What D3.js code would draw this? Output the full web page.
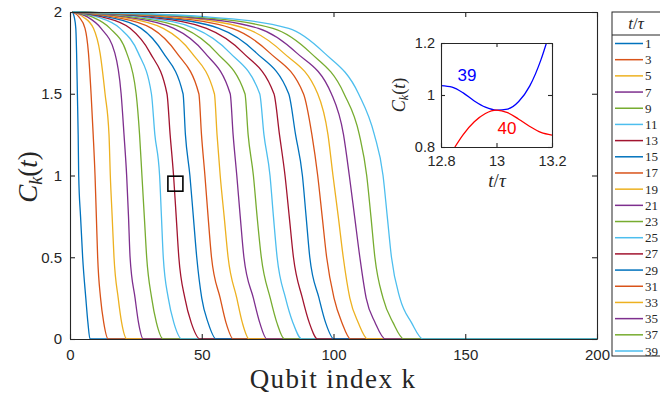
<!DOCTYPE html>
<html>
<head>
<meta charset="utf-8">
<script src="https://cdn.jsdelivr.net/npm/d3@7"></script>
<style>
  html, body { margin: 0; padding: 0; background: #fff; }
  svg { display: block; }
  .tick text { font-family: "Liberation Sans", Arial, sans-serif; fill: #262626; }
  .serif { font-family: "Liberation Serif", "DejaVu Serif", serif; fill: #262626; }
</style>
</head>
<body>
<svg id="chart" width="660" height="398"></svg>
<script>
// Evolution times shown in the legend (t / tau)
const times = [1, 3, 5, 7, 9, 11, 13, 15, 17, 19, 21, 23, 25, 27, 29, 31, 33, 35, 37, 39];

// Correlation levels C_k(t) at which each profile is tabulated
const levels = [2, 1.97, 1.9, 1.75, 1.5, 1.25, 1, 0.75, 0.5, 0.25, 0.1, 0];

// Qubit index k at which each profile reaches the corresponding level (one row per time)
const kAtLevel = [
  [1, 1.6, 2.2, 2.5, 2.8, 3.1, 3.3, 4.0, 4.8, 6.0, 6.8, 7.6],
  [1, 3.4, 5.7, 7.0, 8.0, 8.8, 9.5, 10.0, 10.5, 11.6, 12.8, 14.5],
  [1, 5.0, 8.9, 11.4, 13.3, 14.8, 15.3, 16.0, 16.7, 18.3, 19.6, 21.6],
  [1, 6.6, 11.8, 17.0, 19.4, 20.5, 21.5, 22.2, 22.8, 24.7, 26.0, 27.8],
  [1, 8.4, 15.2, 21.5, 25.1, 26.4, 27.3, 28.2, 29.1, 31.0, 32.8, 35.4],
  [1, 10.3, 19.0, 25.9, 30.9, 32.2, 34.0, 34.7, 35.4, 37.3, 39.4, 42.5],
  [1, 12.2, 22.8, 30.4, 36.8, 38.0, 39.3, 40.3, 41.3, 43.6, 46.0, 49.4],
  [1, 14.3, 27.0, 35.4, 42.9, 43.8, 45.5, 46.8, 48.1, 50.0, 52.4, 55.5],
  [1, 16.5, 31.0, 40.5, 48.9, 49.9, 51.2, 52.4, 53.7, 57.0, 59.2, 62.0],
  [1, 18.8, 35.4, 46.2, 54.8, 55.8, 57.0, 58.5, 60.0, 63.3, 65.4, 68.0],
  [1, 21.2, 39.4, 51.2, 60.8, 61.9, 63.3, 64.6, 66.0, 69.6, 72.0, 74.7],
  [1, 23.8, 43.2, 55.7, 66.4, 67.6, 69.6, 71.0, 72.6, 76.0, 78.5, 81.4],
  [1, 26.5, 47.3, 60.7, 72.0, 73.6, 75.9, 77.2, 78.6, 81.8, 84.6, 88.0],
  [1, 29.4, 51.8, 65.7, 77.4, 79.5, 81.6, 83.2, 84.8, 88.2, 90.8, 94.0],
  [1, 32.5, 56.5, 70.7, 83.0, 85.6, 88.2, 89.6, 91.0, 94.5, 97.0, 100.2],
  [1, 35.8, 61.5, 75.8, 88.6, 91.8, 94.0, 95.7, 97.4, 100.2, 103.2, 106.5],
  [1, 39.3, 66.5, 81.0, 94.0, 97.9, 99.8, 101.8, 103.7, 106.2, 109.4, 113.0],
  [1, 43.0, 71.5, 86.0, 99.2, 103.8, 106.0, 108.0, 110.0, 112.4, 115.8, 119.7],
  [1, 47.0, 77.0, 91.3, 104.0, 109.8, 112.6, 114.2, 115.7, 118.8, 122.6, 126.7],
  [1, 52.0, 83.0, 96.5, 109.5, 115.5, 118.8, 120.4, 122.0, 125.2, 129.6, 134.0]
];

// Highlighted site / value (box marker)
const markerK = 40;
const markerC = 0.95;

// Inset: C_39 and C_40 around t = 13 tau
const insetT39 = [12.8, 12.84, 12.88, 12.92, 12.96, 13.0, 13.04, 13.08, 13.12, 13.16, 13.18];
const insetC39 = [1.036, 1.030, 1.008, 0.977, 0.953, 0.942, 0.946, 0.975, 1.035, 1.135, 1.2];
const insetT40 = [12.85, 12.88, 12.92, 12.96, 13.0, 13.04, 13.08, 13.12, 13.16, 13.2];
const insetC40 = [0.80, 0.848, 0.897, 0.929, 0.942, 0.932, 0.907, 0.879, 0.856, 0.846];

const xTicks = [0, 50, 100, 150, 200];
const yTicks = [0, 0.5, 1, 1.5, 2];
const insetXTicks = [12.8, 13, 13.2];
const insetYTicks = [0.8, 1, 1.2];

const palette = ["#0072BD", "#D95319", "#EDB120", "#7E2F8E", "#77AC30", "#4DBEEE", "#A2142F"];
const axisColor = "#262626";
const fmt = d3.format("~g");

const svg = d3.select("#chart");

const x = d3.scaleLinear().domain([0, 200]).range([70, 597]);
const y = d3.scaleLinear().domain([0, 2]).range([339, 12]);

// Profiles
const line = d3.line().x(d => x(d[0])).y(d => y(d[1])).curve(d3.curveMonotoneX);
const plot = svg.append("g");
plot.append("clipPath").attr("id", "clip")
  .append("rect").attr("x", 70).attr("y", 11).attr("width", 527).attr("height", 329);

const profiles = plot.append("g").attr("clip-path", "url(#clip)");
times.forEach((t, i) => {
  const pts = levels.map((c, j) => [kAtLevel[i][j], c]);
  pts.push([200, 0]);
  profiles.append("path")
    .attr("d", line(pts))
    .attr("fill", "none")
    .attr("stroke", palette[i % palette.length])
    .attr("stroke-width", 1.3)
    .attr("stroke-linejoin", "round");
});

// Marker box
const ms = 15;
svg.append("rect")
  .attr("x", x(markerK) - ms / 2).attr("y", y(markerC) - ms / 2)
  .attr("width", ms).attr("height", ms)
  .attr("fill", "none").attr("stroke", "#000").attr("stroke-width", 1.6);

// Axes (ticks pointing inwards, boxed)
function styleAxis(g) {
  g.select(".domain").attr("stroke", axisColor).attr("stroke-width", 1.1);
  g.selectAll(".tick line").attr("stroke", axisColor).attr("stroke-width", 1.1);
}
svg.append("g").attr("transform", "translate(0,339)")
  .call(d3.axisBottom(x).tickValues(xTicks).tickSize(-5).tickSizeOuter(0).tickPadding(10).tickFormat(fmt))
  .call(styleAxis)
  .call(g => g.selectAll("text").attr("font-size", 15));
svg.append("g").attr("transform", "translate(0,12)")
  .call(d3.axisTop(x).tickValues(xTicks).tickSize(-5).tickSizeOuter(0).tickFormat(""))
  .call(styleAxis);
svg.append("g").attr("transform", "translate(70,0)")
  .call(d3.axisLeft(y).tickValues(yTicks).tickSize(-5).tickSizeOuter(0).tickPadding(8).tickFormat(fmt))
  .call(styleAxis)
  .call(g => g.selectAll("text").attr("font-size", 15));
svg.append("g").attr("transform", "translate(597,0)")
  .call(d3.axisRight(y).tickValues(yTicks).tickSize(-5).tickSizeOuter(0).tickFormat(""))
  .call(styleAxis);

// Axis titles
svg.append("text").attr("class", "serif")
  .attr("x", 333).attr("y", 388).attr("text-anchor", "middle")
  .attr("font-size", 27).attr("letter-spacing", 1.4).text("Qubit index k");

const yl = svg.append("text").attr("class", "serif")
  .attr("transform", "translate(37,177) rotate(-90)")
  .attr("text-anchor", "middle").attr("font-size", 27);
yl.append("tspan").attr("font-style", "italic").text("C");
yl.append("tspan").attr("font-style", "italic").attr("font-size", 18).attr("dy", 5).text("k");
yl.append("tspan").attr("dy", -5).text("(");
yl.append("tspan").attr("font-style", "italic").text("t");
yl.append("tspan").text(")");

// Inset
const ix = d3.scaleLinear().domain([12.8, 13.2]).range([441, 552]);
const iy = d3.scaleLinear().domain([0.8, 1.2]).range([147, 43]);
const inset = svg.append("g");
inset.append("rect").attr("x", 441).attr("y", 43).attr("width", 111).attr("height", 104).attr("fill", "#fff");

const iclip = inset.append("clipPath").attr("id", "iclip");
iclip.append("rect").attr("x", 441).attr("y", 43).attr("width", 111).attr("height", 104);
const icurve = d3.line().x(d => ix(d[0])).y(d => iy(d[1])).curve(d3.curveMonotoneX);
const ig = inset.append("g").attr("clip-path", "url(#iclip)");
ig.append("path").attr("d", icurve(insetT39.map((t, i) => [t, insetC39[i]])))
  .attr("fill", "none").attr("stroke", "#0000FF").attr("stroke-width", 1.3);
ig.append("path").attr("d", icurve(insetT40.map((t, i) => [t, insetC40[i]])))
  .attr("fill", "none").attr("stroke", "#FF0000").attr("stroke-width", 1.3);

inset.append("g").attr("transform", "translate(0,147)")
  .call(d3.axisBottom(ix).tickValues(insetXTicks).tickSize(-4).tickSizeOuter(0).tickPadding(9).tickFormat(fmt))
  .call(styleAxis)
  .call(g => g.selectAll("text").attr("font-size", 14.5));
inset.append("g").attr("transform", "translate(0,43)")
  .call(d3.axisTop(ix).tickValues(insetXTicks).tickSize(-4).tickSizeOuter(0).tickFormat(""))
  .call(styleAxis);
inset.append("g").attr("transform", "translate(441,0)")
  .call(d3.axisLeft(iy).tickValues(insetYTicks).tickSize(-4).tickSizeOuter(0).tickPadding(6).tickFormat(fmt))
  .call(styleAxis)
  .call(g => g.selectAll("text").attr("font-size", 14.5));
inset.append("g").attr("transform", "translate(552,0)")
  .call(d3.axisRight(iy).tickValues(insetYTicks).tickSize(-4).tickSizeOuter(0).tickFormat(""))
  .call(styleAxis);

inset.append("text").attr("x", 467).attr("y", 81).attr("text-anchor", "middle")
  .attr("font-family", "Liberation Sans, Arial, sans-serif").attr("font-size", 17)
  .attr("fill", "#0000FF").text("39");
inset.append("text").attr("x", 507).attr("y", 134).attr("text-anchor", "middle")
  .attr("font-family", "Liberation Sans, Arial, sans-serif").attr("font-size", 17)
  .attr("fill", "#FF0000").text("40");

const iyl = inset.append("text").attr("class", "serif")
  .attr("transform", "translate(405,95) rotate(-90)")
  .attr("text-anchor", "middle").attr("font-size", 18);
iyl.append("tspan").attr("font-style", "italic").text("C");
iyl.append("tspan").attr("font-style", "italic").attr("font-size", 12).attr("dy", 3).text("k");
iyl.append("tspan").attr("dy", -3).text("(");
iyl.append("tspan").attr("font-style", "italic").text("t");
iyl.append("tspan").text(")");

const ixl = inset.append("text").attr("class", "serif")
  .attr("x", 497).attr("y", 187).attr("text-anchor", "middle").attr("font-size", 19);
ixl.append("tspan").attr("font-style", "italic").text("t");
ixl.append("tspan").text("/");
ixl.append("tspan").attr("font-style", "italic").text("τ");

// Legend
const legend = svg.append("g");
legend.append("rect").attr("x", 612).attr("y", 12).attr("width", 60).attr("height", 344)
  .attr("fill", "#fff").attr("stroke", axisColor).attr("stroke-width", 1);
legend.append("line").attr("x1", 612).attr("x2", 672).attr("y1", 35).attr("y2", 35)
  .attr("stroke", axisColor).attr("stroke-width", 1);
const lt = legend.append("text").attr("class", "serif")
  .attr("x", 636).attr("y", 29).attr("text-anchor", "middle").attr("font-size", 17);
lt.append("tspan").attr("font-style", "italic").text("t");
lt.append("tspan").text("/");
lt.append("tspan").attr("font-style", "italic").text("τ");

const ly = d3.scalePoint().domain(times).range([43.5, 351]);
times.forEach((t, i) => {
  legend.append("line")
    .attr("x1", 615).attr("x2", 643).attr("y1", ly(t)).attr("y2", ly(t))
    .attr("stroke", palette[i % palette.length]).attr("stroke-width", 1.5);
  legend.append("text").attr("class", "serif")
    .attr("x", 645).attr("y", ly(t) + 4.5).attr("font-size", 13).text(t);
});
</script>
</body>
</html>
